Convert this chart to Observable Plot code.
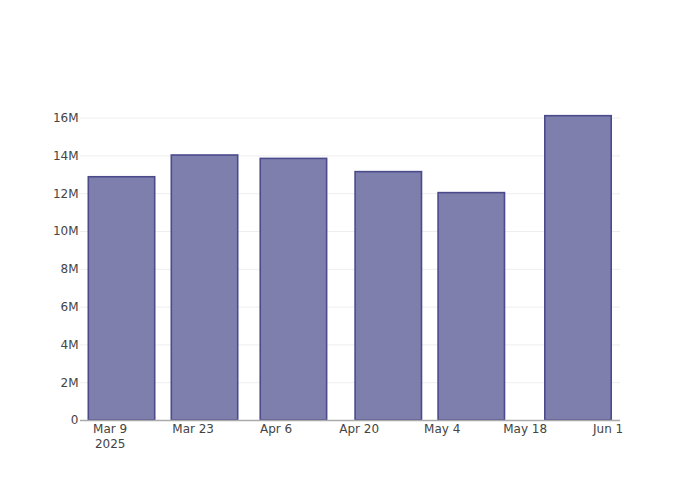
<!DOCTYPE html>
<html>
<head>
<meta charset="utf-8">
<script src="https://cdn.jsdelivr.net/npm/d3@7"></script>
<script src="https://cdn.jsdelivr.net/npm/@observablehq/plot@0.6"></script>
<style>
  html, body { margin: 0; padding: 0; background: #fff; }
  #chart { width: 700px; height: 500px; }
  svg { font-family: "DejaVu Sans", sans-serif; }
</style>
</head>
<body>
<div id="chart"></div>
<script>
const dates = ["2025-03-11", "2025-03-25", "2025-04-09", "2025-04-25", "2025-05-09", "2025-05-27"];
const values = [12.87e6, 14.02e6, 13.84e6, 13.14e6, 12.03e6, 16.10e6];
const xTickDates = ["2025-03-09", "2025-03-23", "2025-04-06", "2025-04-20", "2025-05-04", "2025-05-18", "2025-06-01"];
const xTickLabels = ["Mar 9\n2025", "Mar 23", "Apr 6", "Apr 20", "May 4", "May 18", "Jun 1"];
const yTicks = [0, 2e6, 4e6, 6e6, 8e6, 10e6, 12e6, 14e6, 16e6];
const yTickLabels = ["0", "2M", "4M", "6M", "8M", "10M", "12M", "14M", "16M"];

const DAY = 86400000;
const halfWidth = 5.6 * DAY;
const data = dates.map((d, i) => {
  const t = new Date(d + "T00:00:00Z").getTime();
  return { x1: new Date(t - halfWidth), x2: new Date(t + halfWidth), value: values[i] };
});
const tickDates = xTickDates.map(d => new Date(d + "T00:00:00Z"));
const labelFor = new Map(tickDates.map((d, i) => [d.getTime(), xTickLabels[i]]));

const plot = Plot.plot({
  width: 700,
  height: 500,
  marginLeft: 80,
  marginRight: 80,
  marginTop: 100,
  marginBottom: 80,
  style: { fontFamily: '"DejaVu Sans", sans-serif', fontSize: "12px", color: "#444", background: "#fff" },
  x: {
    type: "utc",
    domain: [new Date(Date.UTC(2025, 2, 4, 0, 0)), new Date(Date.UTC(2025, 5, 3, 2, 0))]
  },
  y: { domain: [0, 16.93e6] },
  marks: [
    Plot.gridY(yTicks.slice(1), { stroke: "#eeeeee", strokeOpacity: 1 }),
    Plot.rectY(data, {
      x1: "x1", x2: "x2", y: "value",
      fill: "#7f7fae", stroke: "#4b4b8c", strokeWidth: 1.6
    }),
    Plot.ruleY([0], { stroke: "#aaaaaa", strokeWidth: 1.5 }),
    Plot.axisY({
      ticks: yTicks,
      tickFormat: d => yTickLabels[yTicks.indexOf(d)],
      tickSize: 0,
      tickPadding: 2,
      fill: "#444",
      fontSize: 12,
      label: null
    }),
    Plot.axisX({
      ticks: tickDates,
      tickFormat: d => labelFor.get(d.getTime()),
      tickSize: 0,
      tickPadding: 1,
      fill: "#444",
      fontSize: 12,
      lineHeight: 1.3,
      label: null
    })
  ]
});
document.getElementById("chart").appendChild(plot);
</script>
</body>
</html>
